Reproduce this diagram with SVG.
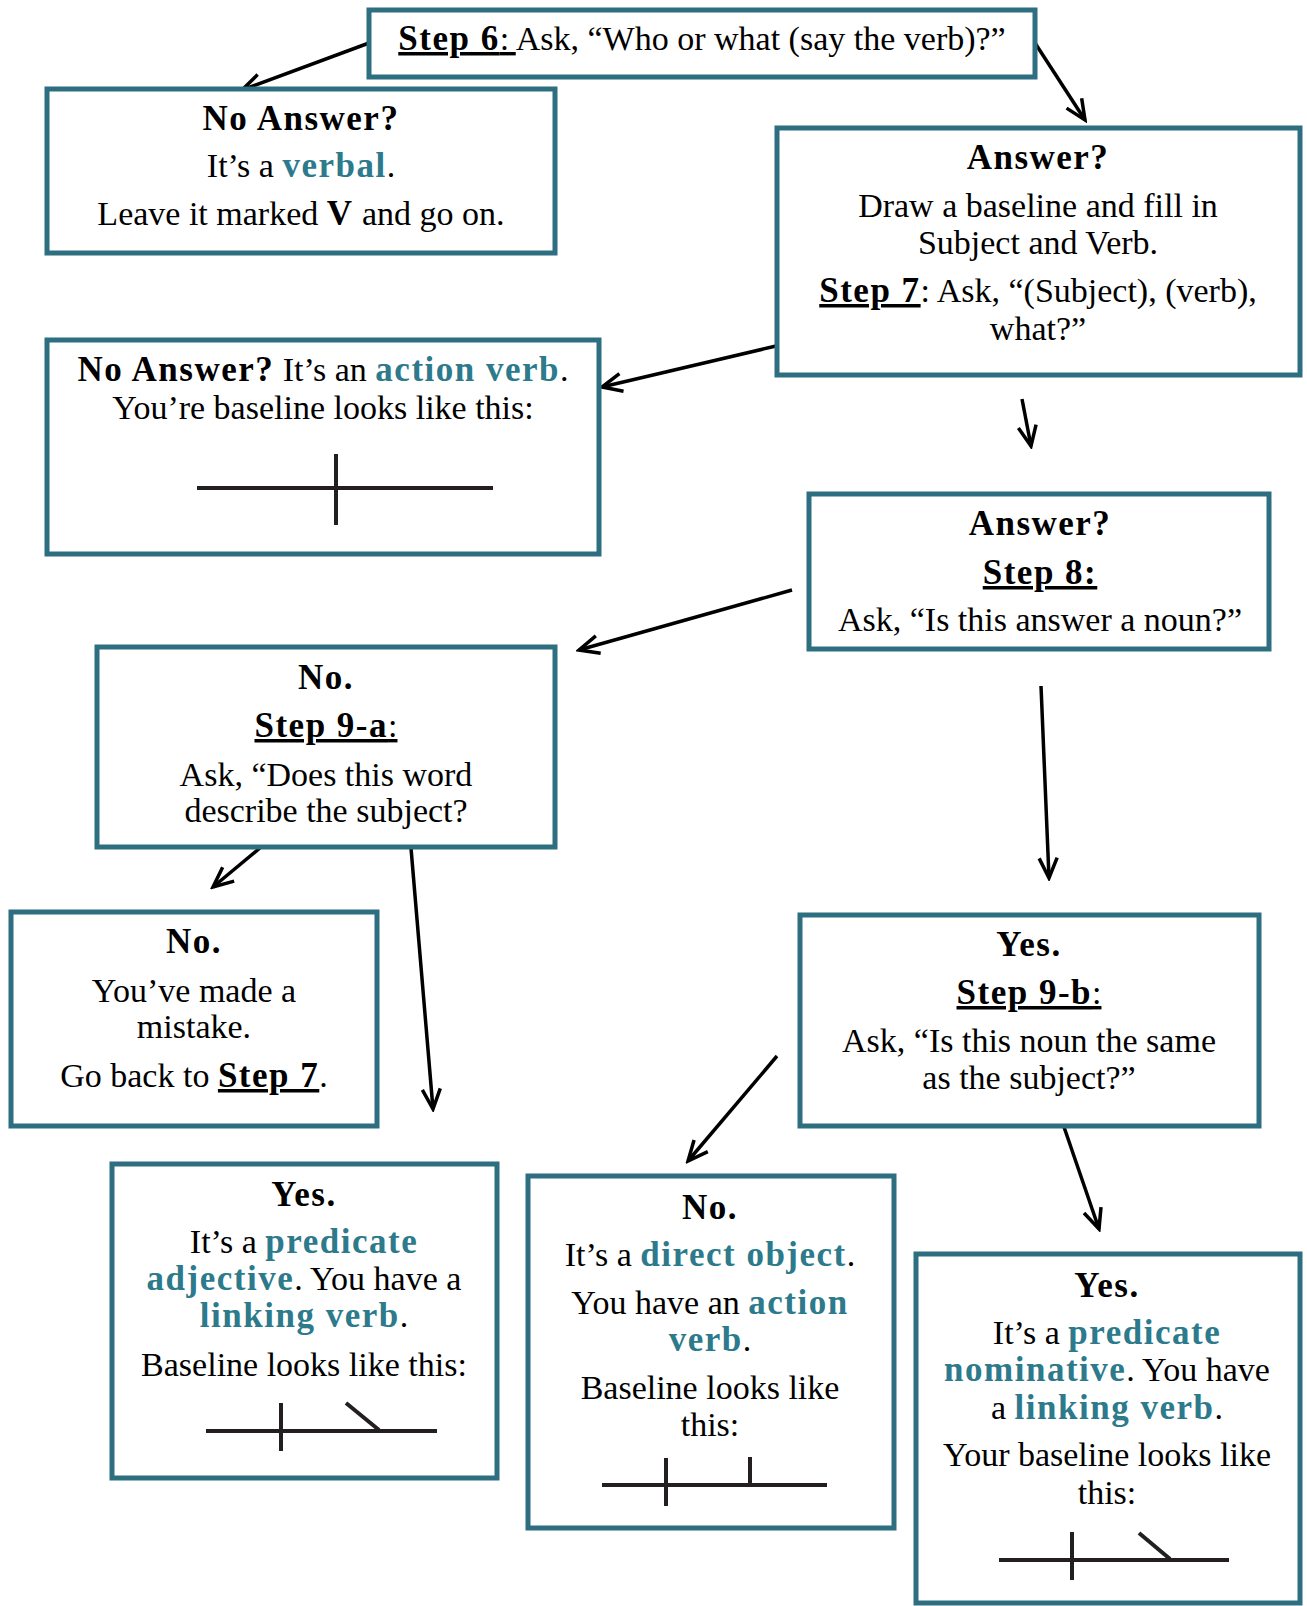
<svg xmlns="http://www.w3.org/2000/svg" width="1307" height="1606" viewBox="0 0 1307 1606">
  <style>
    .box { fill: #ffffff; stroke: #2D6E80; stroke-width: 5; }
    .t { font-family: "Liberation Serif", "Times New Roman", serif; font-size: 34px; text-anchor: middle; fill: #000000; }
    .b { font-weight: bold; font-size: 35px; letter-spacing: 1.5px; }
    .hl { font-weight: bold; font-size: 35px; letter-spacing: 1.5px; fill: #2C7A8B; }
    .u { text-decoration: underline; }
    .conn { stroke: #000000; stroke-width: 3.5; fill: none; marker-end: url(#arr); }
    .bl { stroke: #231F20; stroke-width: 4; fill: none; }
  </style>
  <defs>
    <marker id="arr" viewBox="0 0 26 24" refX="23" refY="12" markerWidth="26" markerHeight="24" markerUnits="userSpaceOnUse" orient="auto">
      <path d="M3,3 L23,12 L3,21" fill="none" stroke="#000000" stroke-width="3.5"/>
    </marker>
  </defs>
  <rect width="1307" height="1606" fill="#ffffff"/>

  <!-- connectors -->
  <g id="connectors">
    <line class="conn" x1="369" y1="43" x2="242" y2="90"/>
    <line class="conn" x1="1035" y1="43" x2="1085" y2="120"/>
    <line class="conn" x1="776" y1="346" x2="602" y2="387"/>
    <line class="conn" x1="1022" y1="399" x2="1031" y2="446"/>
    <line class="conn" x1="792" y1="590" x2="579" y2="650"/>
    <line class="conn" x1="1041" y1="686" x2="1049" y2="878"/>
    <line class="conn" x1="260" y1="848" x2="213" y2="887"/>
    <line class="conn" x1="411" y1="848" x2="433" y2="1109"/>
    <line class="conn" x1="777" y1="1056" x2="688" y2="1161"/>
    <line class="conn" x1="1064" y1="1127" x2="1099" y2="1229"/>
  </g>

  <!-- Step 6 -->
  <g id="step6">
    <rect class="box" x="369" y="10" width="666" height="67"/>
    <text class="t" x="702" y="50"><tspan class="u"><tspan class="b">Step 6</tspan>: </tspan>Ask, “Who or what (say the verb)?”</text>
  </g>

  <!-- No answer: verbal -->
  <g id="verbal">
    <rect class="box" x="47" y="89" width="508" height="164"/>
    <text class="t b" x="301" y="130">No Answer?</text>
    <text class="t" x="301" y="177">It’s a <tspan class="hl">verbal</tspan>.</text>
    <text class="t" x="301" y="225">Leave it marked <tspan class="b">V</tspan> and go on.</text>
  </g>

  <!-- Answer: Step 7 -->
  <g id="step7">
    <rect class="box" x="777" y="128" width="523" height="247"/>
    <text class="t b" x="1038" y="169">Answer?</text>
    <text class="t" x="1038" y="217">Draw a baseline and fill in</text>
    <text class="t" x="1038" y="254">Subject and Verb.</text>
    <text class="t" x="1038" y="302"><tspan class="b u">Step 7</tspan>: Ask, “(Subject), (verb),</text>
    <text class="t" x="1038" y="340">what?”</text>
  </g>

  <!-- No answer: action verb -->
  <g id="action-verb">
    <rect class="box" x="47" y="340" width="552" height="214"/>
    <text class="t" x="323" y="381"><tspan class="b">No Answer?</tspan> It’s an <tspan class="hl">action verb</tspan>.</text>
    <text class="t" x="323" y="419">You’re baseline looks like this:</text>
    <line class="bl" x1="197" y1="488" x2="493" y2="488"/>
    <line class="bl" x1="336" y1="454" x2="336" y2="525"/>
  </g>

  <!-- Answer: Step 8 -->
  <g id="step8">
    <rect class="box" x="809" y="494" width="460" height="155"/>
    <text class="t b" x="1040" y="535">Answer?</text>
    <text class="t b" x="1040" y="584"><tspan class="u">Step 8:</tspan></text>
    <text class="t" x="1040" y="631">Ask, “Is this answer a noun?”</text>
  </g>

  <!-- No: Step 9-a -->
  <g id="step9a">
    <rect class="box" x="97" y="647" width="458" height="200"/>
    <text class="t b" x="326" y="689">No.</text>
    <text class="t" x="326" y="737"><tspan class="u"><tspan class="b">Step 9-a</tspan>:</tspan></text>
    <text class="t" x="326" y="786">Ask, “Does this word</text>
    <text class="t" x="326" y="822">describe the subject?</text>
  </g>

  <!-- No: mistake -->
  <g id="mistake">
    <rect class="box" x="11" y="912" width="366" height="214"/>
    <text class="t b" x="194" y="953">No.</text>
    <text class="t" x="194" y="1002">You’ve made a</text>
    <text class="t" x="194" y="1038">mistake.</text>
    <text class="t" x="194" y="1087">Go back to <tspan class="b u">Step 7</tspan>.</text>
  </g>

  <!-- Yes: Step 9-b -->
  <g id="step9b">
    <rect class="box" x="800" y="915" width="459" height="211"/>
    <text class="t b" x="1029" y="956">Yes.</text>
    <text class="t" x="1029" y="1004"><tspan class="u"><tspan class="b">Step 9-b</tspan>:</tspan></text>
    <text class="t" x="1029" y="1052">Ask, “Is this noun the same</text>
    <text class="t" x="1029" y="1089">as the subject?”</text>
  </g>

  <!-- Yes: predicate adjective -->
  <g id="predicate-adjective">
    <rect class="box" x="112" y="1164" width="385" height="314"/>
    <text class="t b" x="304" y="1206">Yes.</text>
    <text class="t" x="304" y="1253">It’s a <tspan class="hl">predicate</tspan></text>
    <text class="t" x="304" y="1290"><tspan class="hl">adjective</tspan>. You have a</text>
    <text class="t" x="304" y="1327"><tspan class="hl">linking verb</tspan>.</text>
    <text class="t" x="304" y="1376">Baseline looks like this:</text>
    <line class="bl" x1="206" y1="1431" x2="437" y2="1431"/>
    <line class="bl" x1="281" y1="1403" x2="281" y2="1451"/>
    <line class="bl" x1="346" y1="1403" x2="379" y2="1430"/>
  </g>

  <!-- No: direct object -->
  <g id="direct-object">
    <rect class="box" x="528" y="1176" width="366" height="352"/>
    <text class="t b" x="710" y="1219">No.</text>
    <text class="t" x="710" y="1266">It’s a <tspan class="hl">direct object</tspan>.</text>
    <text class="t" x="710" y="1314">You have an <tspan class="hl">action</tspan></text>
    <text class="t" x="710" y="1351"><tspan class="hl">verb</tspan>.</text>
    <text class="t" x="710" y="1399">Baseline looks like</text>
    <text class="t" x="710" y="1436">this:</text>
    <line class="bl" x1="602" y1="1485" x2="827" y2="1485"/>
    <line class="bl" x1="666" y1="1458" x2="666" y2="1506"/>
    <line class="bl" x1="750" y1="1457" x2="750" y2="1485"/>
  </g>

  <!-- Yes: predicate nominative -->
  <g id="predicate-nominative">
    <rect class="box" x="916" y="1254" width="384" height="349"/>
    <text class="t b" x="1107" y="1297">Yes.</text>
    <text class="t" x="1107" y="1344">It’s a <tspan class="hl">predicate</tspan></text>
    <text class="t" x="1107" y="1381"><tspan class="hl">nominative</tspan>. You have</text>
    <text class="t" x="1107" y="1419">a <tspan class="hl">linking verb</tspan>.</text>
    <text class="t" x="1107" y="1466">Your baseline looks like</text>
    <text class="t" x="1107" y="1504">this:</text>
    <line class="bl" x1="999" y1="1560" x2="1229" y2="1560"/>
    <line class="bl" x1="1072" y1="1532" x2="1072" y2="1580"/>
    <line class="bl" x1="1139" y1="1533" x2="1170" y2="1559"/>
  </g>
</svg>
